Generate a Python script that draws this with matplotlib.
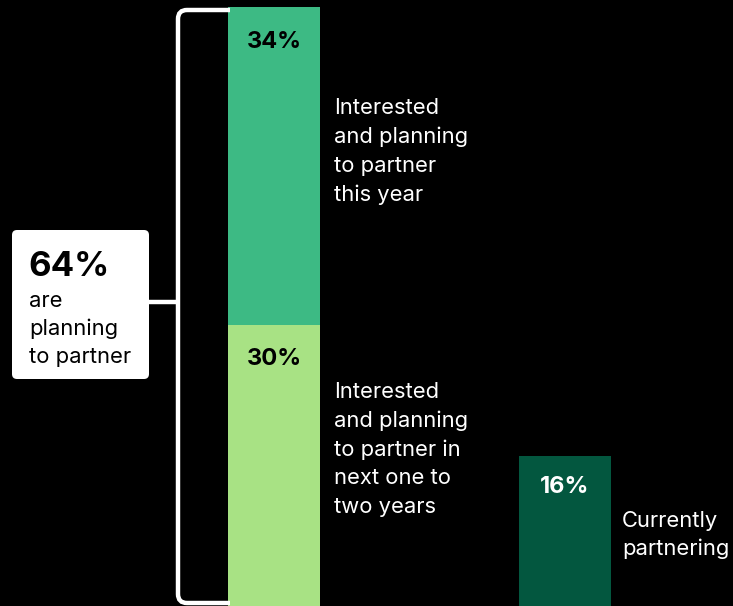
import matplotlib
matplotlib.use("Agg")
import matplotlib.pyplot as plt
from matplotlib.patches import FancyBboxPatch
from matplotlib.path import Path
from matplotlib.patches import PathPatch

plt.rcParams['font.family'] = ['Inter', 'DejaVu Sans']

# Data
segments = ["Interested and planning\nto partner this year",
            "Interested and planning\nto partner in next one to two years"]
planning_values = [30, 34]           # stacked bottom -> top
current_value = 16
planning_total = sum(planning_values)
value_labels = ["30%", "34%"]
current_label = "16%"
total_label = "64%"

c_top = "#3dba84"
c_low = "#a8e284"
c_dark = "#03573f"

W, H = 733, 606
fig = plt.figure(figsize=(W / 100, H / 100), dpi=100, facecolor="black")

# data axes: x in pixels, y in percent
ax = fig.add_axes([0, 0, 1, 1], facecolor="black")
ax.set_xlim(0, W)
px_per_pct = (H - 7) / planning_total
ax.set_ylim(0, H / px_per_pct)
ax.axis("off")

bar_w = 92
x_plan = 274
x_cur = 565

ax.bar(x_plan, planning_values[0], width=bar_w, color=c_low, edgecolor="none")
ax.bar(x_plan, planning_values[1], bottom=planning_values[0], width=bar_w,
       color=c_top, edgecolor="none")
ax.bar(x_cur, current_value, width=bar_w, color=c_dark, edgecolor="none")

pct_kw = dict(ha="center", va="center", fontsize=17, fontweight="bold",
              textcoords="offset points")
ax.annotate(value_labels[1], xy=(x_plan, planning_total), xytext=(0, -25), color="black", **pct_kw)
ax.annotate(value_labels[0], xy=(x_plan, planning_values[0]), xytext=(0, -24), color="black", **pct_kw)
ax.annotate(current_label, xy=(x_cur, current_value), xytext=(0, -22), color="white", **pct_kw)

# overlay axes in pixel coordinates for bracket and callout box
ov = fig.add_axes([0, 0, 1, 1], facecolor="none")
ov.set_xlim(0, W)
ov.set_ylim(H, 0)
ov.axis("off")

# bracket with rounded corners
r = 9
xl, xr = 178, 230
yt, yb = 10, 603
verts = [(xr, yt), (xl + r, yt), (xl, yt), (xl, yt + r),
         (xl, yb - r), (xl, yb), (xl + r, yb), (xr, yb)]
codes = [Path.MOVETO, Path.LINETO, Path.CURVE3, Path.CURVE3,
         Path.LINETO, Path.CURVE3, Path.CURVE3, Path.LINETO]
ov.add_patch(PathPatch(Path(verts, codes), facecolor="none", edgecolor="white",
                       lw=3.2, zorder=1))
ov.plot([148, xl], [302, 302], color="white", lw=3.2, solid_capstyle="butt", zorder=1)

# callout box
ov.add_patch(FancyBboxPatch((12, 230), 137, 149,
                            boxstyle="round,pad=0,rounding_size=5",
                            facecolor="white", edgecolor="none", zorder=2))
ov.text(28, 276, total_label, fontsize=25, fontweight="bold", color="black",
        va="baseline", ha="left", zorder=3)
for i, line in enumerate(["are", "planning", "to partner"]):
    ov.text(29, 307 + 28 * i, line, fontsize=15.8, color="black",
            va="baseline", ha="left", zorder=3)

lab_kw = dict(fontsize=15.8, color="white", va="baseline", ha="left")
for i, line in enumerate(["Interested", "and planning", "to partner", "this year"]):
    ov.text(334, 114 + 29 * i, line, **lab_kw)
for i, line in enumerate(["Interested", "and planning", "to partner in",
                          "next one to", "two years"]):
    ov.text(334, 398 + 28.8 * i, line, **lab_kw)
for i, line in enumerate(["Currently", "partnering"]):
    ov.text(622, 527 + 28 * i, line, **lab_kw)

fig.savefig("out.png", dpi=100, facecolor="black")
